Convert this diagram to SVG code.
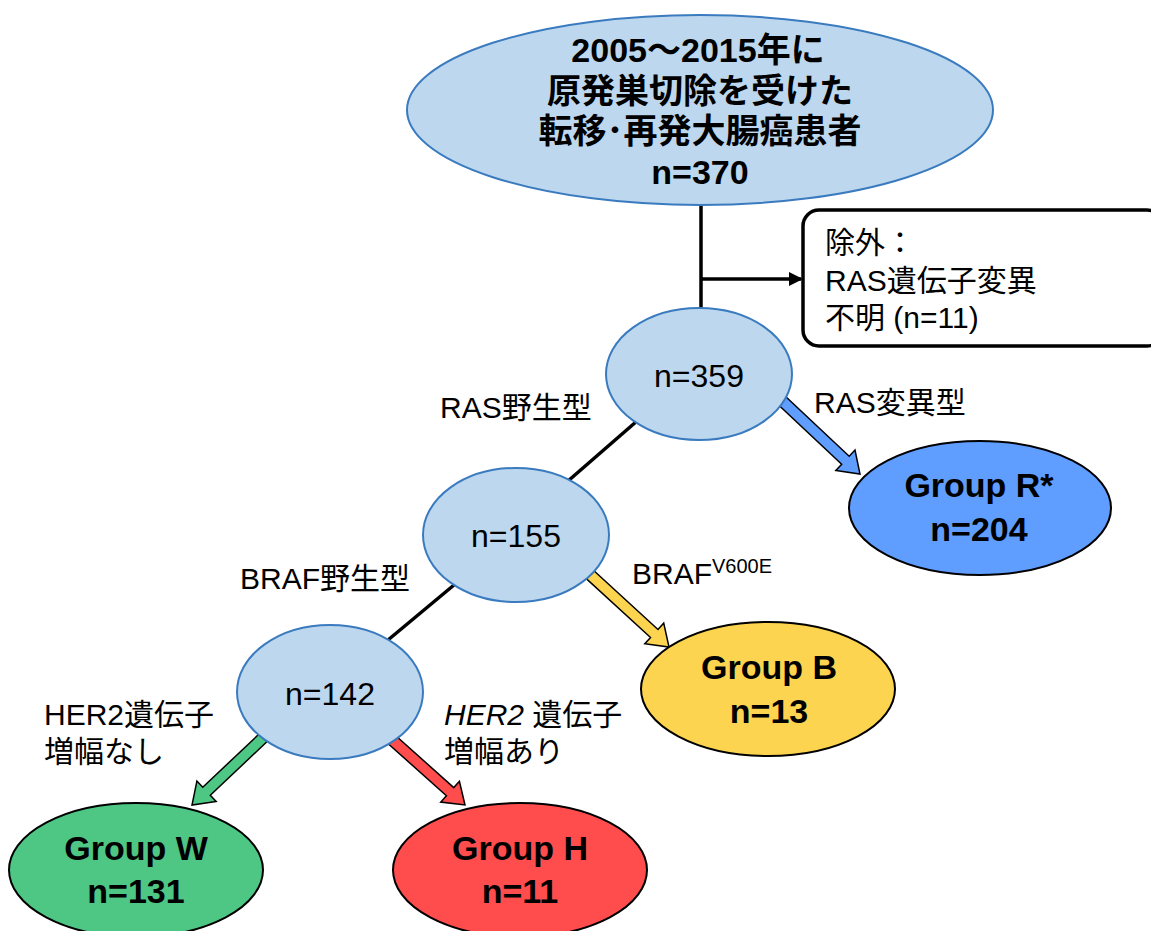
<svg xmlns="http://www.w3.org/2000/svg" width="1151" height="931" viewBox="0 0 1151 931">
<defs>
<style>
text{font-family:"Liberation Sans","Noto Sans CJK JP",sans-serif;fill:#000}
.b{font-weight:bold;font-size:34px}
.g{font-weight:bold;font-size:34px}
.n{font-size:32px}
.l{font-size:30px}
.lb{fill:#bdd7ee;stroke:#3a7bbf;stroke-width:2}
.grp{stroke:#000;stroke-width:2}
.ln{stroke:#000;stroke-width:3.5;fill:none}
.ba{stroke:#000;stroke-width:1.5;stroke-linejoin:miter}
</style>
<marker id="ah" markerWidth="14" markerHeight="14" refX="12" refY="7" orient="auto" markerUnits="userSpaceOnUse">
<path d="M0,0 L14,7 L0,14 Z" fill="#000"/>
</marker>
</defs>
<rect width="1151" height="931" fill="#fff"/>
<g id="connectors">
<line class="ln" x1="701" y1="200" x2="701" y2="310"/>
<line class="ln" x1="701" y1="279" x2="801" y2="279" marker-end="url(#ah)"/>
<line class="ln" x1="637" y1="421" x2="568" y2="481"/>
<line class="ln" x1="454" y1="585" x2="388" y2="640"/>
<path class="ba" fill="#5f9dff" transform="translate(860,474) rotate(43.2)" d="M-112,-5.5 L-20,-5.5 L-20,-14 L0,0 L-20,14 L-20,5.5 L-112,5.5 Z"/>
<path class="ba" fill="#fdd44f" transform="translate(669,647) rotate(42.5)" d="M-112,-5.5 L-20,-5.5 L-20,-14 L0,0 L-20,14 L-20,5.5 L-112,5.5 Z"/>
<path class="ba" fill="#4ec684" transform="translate(192,805) rotate(136.6)" d="M-100,-5.5 L-20,-5.5 L-20,-14 L0,0 L-20,14 L-20,5.5 L-100,5.5 Z"/>
<path class="ba" fill="#ff4d4d" transform="translate(465,805) rotate(41.8)" d="M-100,-5.5 L-20,-5.5 L-20,-14 L0,0 L-20,14 L-20,5.5 L-100,5.5 Z"/>
</g>
<g id="labels">
<text class="l" x="440" y="418">RAS野生型</text>
<text class="l" x="814" y="413">RAS変異型</text>
<text class="l" x="240" y="589">BRAF野生型</text>
<text class="l" x="632" y="584">BRAF<tspan font-size="20" dy="-11">V600E</tspan></text>
<text class="l" x="44" y="725">HER2遺伝子</text>
<text class="l" x="44" y="762">増幅なし</text>
<text class="l" x="444" y="725"><tspan font-style="italic">HER2</tspan> 遺伝子</text>
<text class="l" x="444" y="762">増幅あり</text>
</g>
<g id="root">
<ellipse class="lb" cx="700" cy="110" rx="293" ry="95"/>
<text class="b" text-anchor="middle" x="698" y="62">2005～2015年に</text>
<text class="b" text-anchor="middle" x="700" y="103">原発巣切除を受けた</text>
<text class="b" text-anchor="middle" x="700" y="143">転移･再発大腸癌患者</text>
<text class="b" text-anchor="middle" x="700" y="184">n=370</text>
</g>
<g id="excluded">
<rect x="803" y="210" width="360" height="136" rx="16" ry="16" fill="#fff" stroke="#000" stroke-width="3.5"/>
<text class="l" x="825" y="253">除外：</text>
<text class="l" x="825" y="291">RAS遺伝子変異</text>
<text class="l" x="825" y="328">不明 (n=11)</text>
</g>
<g id="n359">
<ellipse class="lb" cx="699" cy="374" rx="93" ry="66"/>
<text class="n" text-anchor="middle" x="699" y="387">n=359</text>
</g>
<g id="n155">
<ellipse class="lb" cx="516" cy="535" rx="93" ry="67"/>
<text class="n" text-anchor="middle" x="516" y="547">n=155</text>
</g>
<g id="n142">
<ellipse class="lb" cx="330" cy="692" rx="93" ry="67"/>
<text class="n" text-anchor="middle" x="330" y="705">n=142</text>
</g>
<g id="groupR">
<ellipse class="grp" fill="#5f9dff" cx="980" cy="508" rx="131" ry="67"/>
<text class="g" text-anchor="middle" x="979" y="497">Group R*</text>
<text class="g" text-anchor="middle" x="979" y="541">n=204</text>
</g>
<g id="groupB">
<ellipse class="grp" fill="#fdd44f" cx="768" cy="689" rx="127" ry="67"/>
<text class="g" text-anchor="middle" x="769" y="679">Group B</text>
<text class="g" text-anchor="middle" x="769" y="723">n=13</text>
</g>
<g id="groupW">
<ellipse class="grp" fill="#4ec684" cx="136" cy="870" rx="127" ry="67"/>
<text class="g" text-anchor="middle" x="136" y="860">Group W</text>
<text class="g" text-anchor="middle" x="136" y="903">n=131</text>
</g>
<g id="groupH">
<ellipse class="grp" fill="#ff4d4d" cx="520" cy="870" rx="127" ry="67"/>
<text class="g" text-anchor="middle" x="520" y="860">Group H</text>
<text class="g" text-anchor="middle" x="520" y="903">n=11</text>
</g>
</svg>
